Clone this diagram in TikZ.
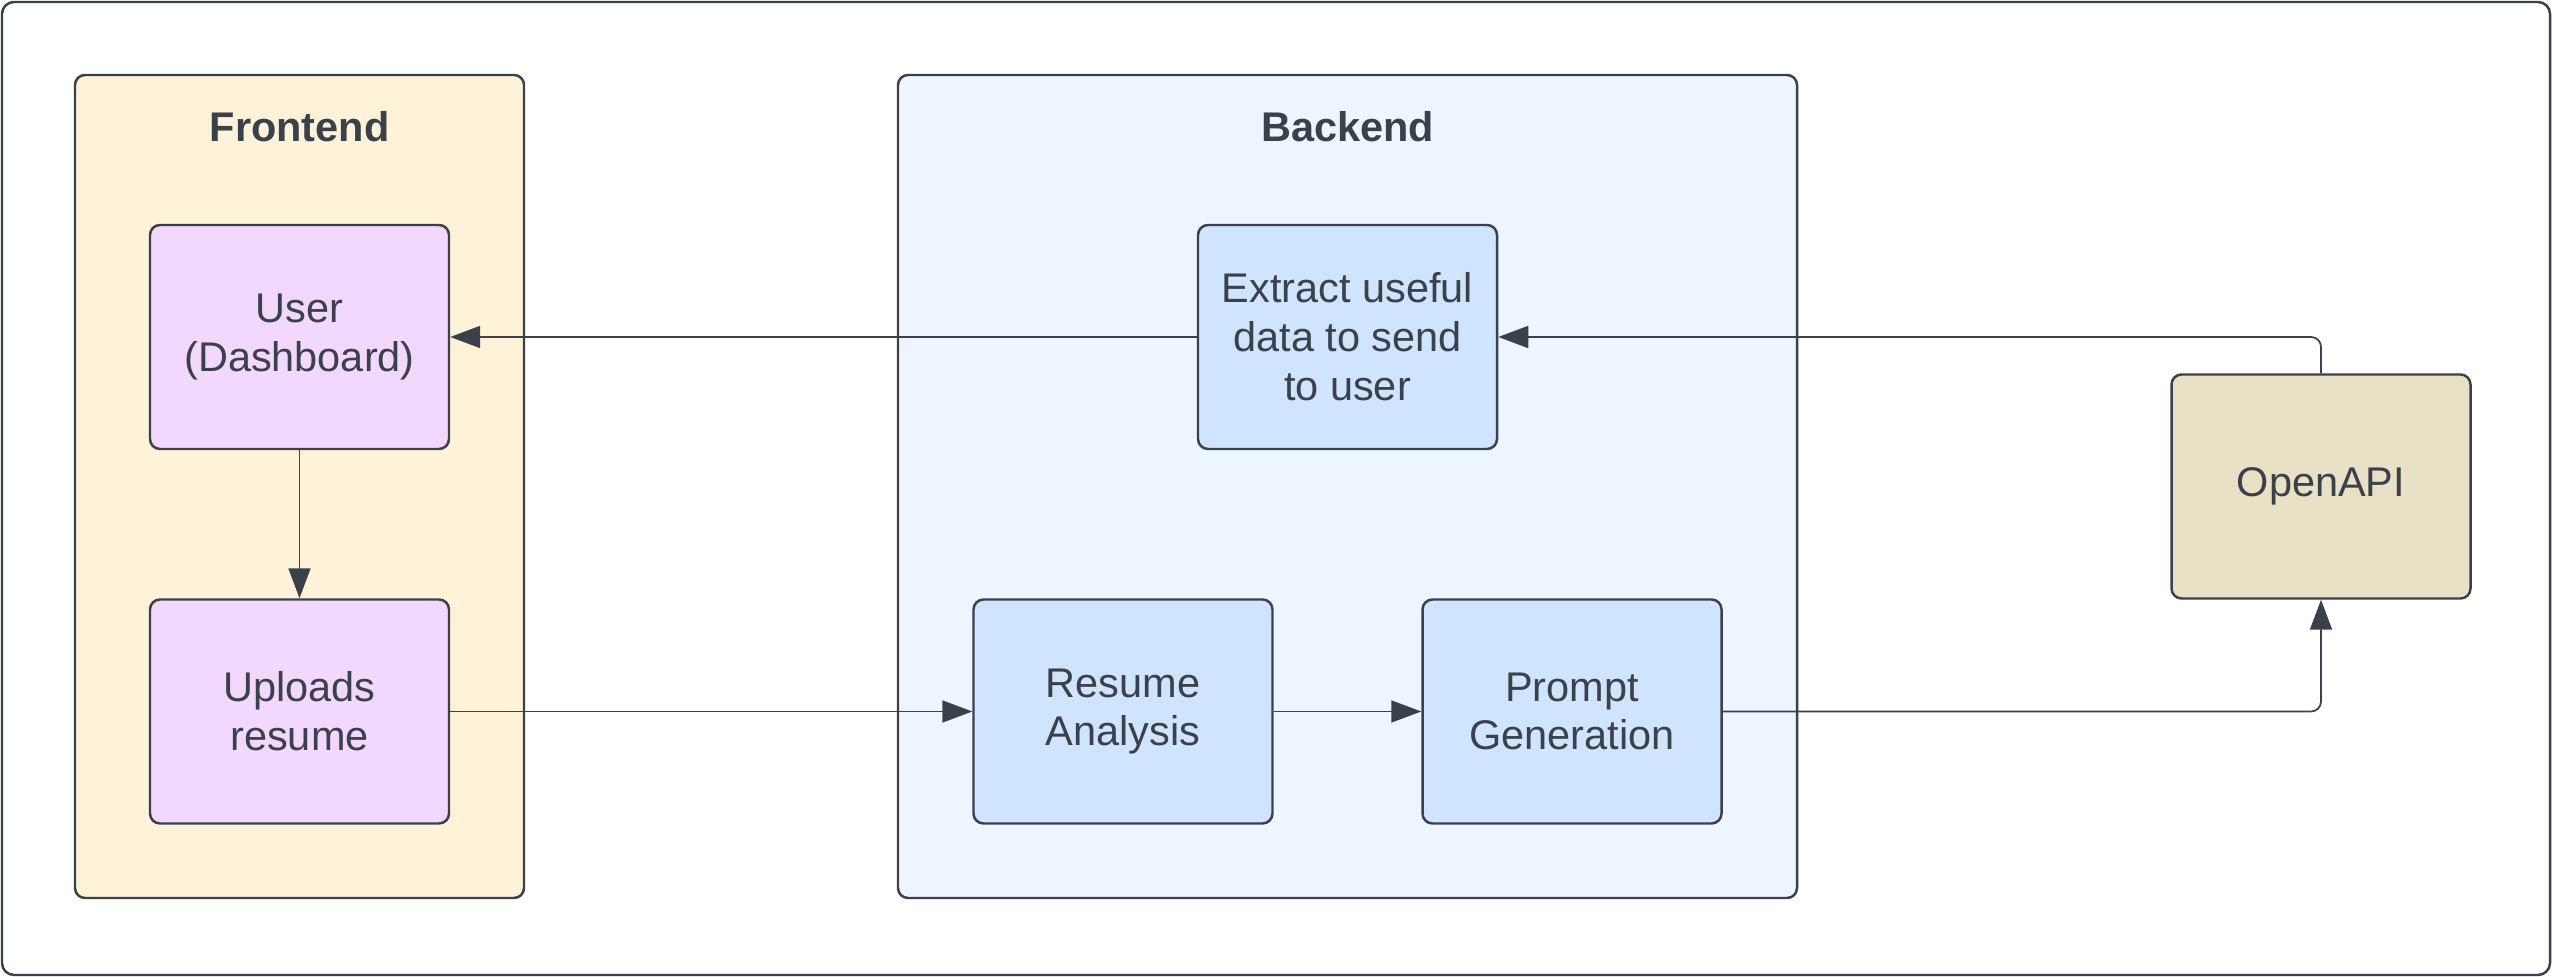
\documentclass[tikz,border=0pt]{standalone}
\usepackage{fontspec}
\setmainfont{Liberation Sans}
\usetikzlibrary{arrows.meta}

\definecolor{inkgray}{HTML}{3A414A}
\definecolor{frontfill}{HTML}{FEF2D8}
\definecolor{backfill}{HTML}{EDF5FF}
\definecolor{userfill}{HTML}{F2D8FE}
\definecolor{procfill}{HTML}{CFE4FF}
\definecolor{apifill}{HTML}{E8E1C6}

\tikzset{
  lane/.style={draw=inkgray, line width=0.7pt, rounded corners=0.1cm,
    minimum width=#1, minimum height=8.23cm, inner sep=0pt},
  lanetitle/.style={text=inkgray, font=\fontsize{11.8}{14}\selectfont\bfseries},
  block/.style={draw=inkgray, line width=0.7pt, rounded corners=0.1cm,
    minimum width=2.99cm, minimum height=2.24cm, inner sep=0pt,
    align=center, text=inkgray, font=\fontsize{11.8}{13.9}\selectfont},
  flow/.style={draw=inkgray, line width=0.5pt,
    -{Triangle[length=3mm,width=2.2mm]}}
}

\begin{document}
\begin{tikzpicture}

\useasboundingbox (0,0) rectangle (25.52,-9.77);

% Outer frame
\draw[inkgray, line width=0.7pt, rounded corners=0.12cm] (0.02,-0.02) rectangle (25.50,-9.75);

% Lanes
\node[lane=4.49cm, fill=frontfill] (front) at (2.995,-4.865) {};
\node[lane=8.99cm, fill=backfill] (back) at (13.475,-4.865) {};

% Lane titles
\node[lanetitle] (fronttitle) at (2.995,-1.27) {Frontend};
\node[lanetitle] (backtitle) at (13.475,-1.27) {Backend};

% Blocks
\node[block, fill=userfill] (user) at (2.995,-3.37) {User\\(Dashboard)};
\node[block, fill=userfill] (upload) at (2.995,-7.115) {Uploads\\resume};
\node[block, fill=procfill] (extract) at (13.475,-3.37) {Extract useful\\data to send\\to user};
\node[block, fill=procfill] (analysis) at (11.23,-7.115) {Resume\\Analysis};
\node[block, fill=procfill] (prompt) at (15.72,-7.115) {Prompt\\Generation};
\node[block, fill=apifill] (openapi) at (23.21,-4.865) {OpenAPI};

% Connectors
\draw[flow] (user) -- (upload);
\draw[flow] (upload) -- (analysis);
\draw[flow] (analysis) -- (prompt);
\draw[flow, rounded corners=0.1cm] (prompt.east) -| (openapi.south);
\draw[flow, rounded corners=0.1cm] (openapi.north) |- (extract.east);
\draw[flow] (extract) -- (user);

\end{tikzpicture}
\end{document}
